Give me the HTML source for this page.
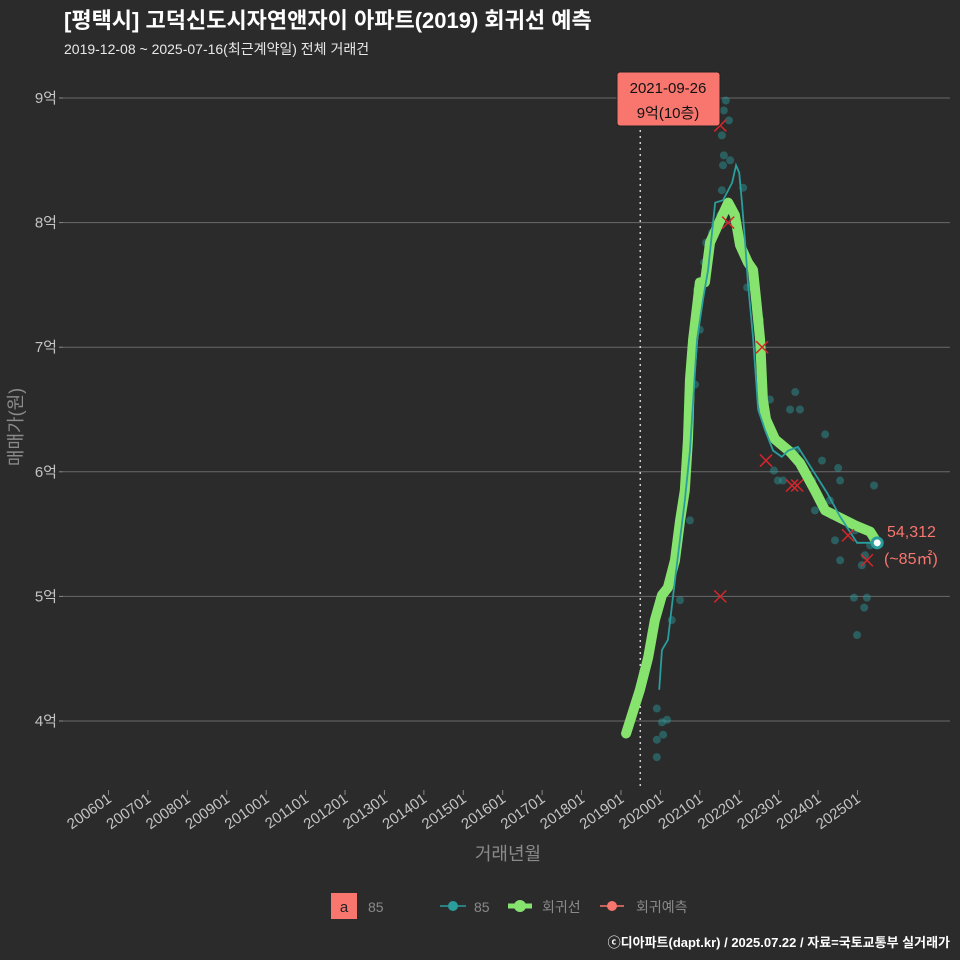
<!DOCTYPE html>
<html><head><meta charset="utf-8">
<style>
html,body{margin:0;padding:0;background:#2b2b2c;}
svg{display:block;font-family:"Liberation Sans","Noto Sans CJK KR",sans-serif;}
</style></head>
<body>
<svg id="chart" width="960" height="960" viewBox="0 0 960 960">
<rect width="960" height="960" fill="#2b2b2c"/>
<text x="64" y="28" fill="#ffffff" font-size="22" font-weight="bold">[평택시] 고덕신도시자연앤자이 아파트(2019) 회귀선 예측</text>
<text x="64" y="54" fill="#e8e8e8" font-size="14">2019-12-08 ~ 2025-07-16(최근계약일) 전체 거래건</text>
<g id="grid"></g>
<g id="marks"></g>
<text x="0" y="0" transform="translate(22,427) rotate(-90)" text-anchor="middle" fill="#8a8a8a" font-size="18">매매가(원)</text>
<text x="508" y="860" text-anchor="middle" fill="#8a8a8a" font-size="18">거래년월</text>
<g>
<rect x="331" y="893" width="26" height="26" fill="#f8766d"/>
<text x="344" y="912" text-anchor="middle" fill="#222" font-size="15">a</text>
<text x="368" y="912" fill="#8a8a8a" font-size="14">85</text>
<g>
<line x1="440" y1="906" x2="466" y2="906" stroke="#2a9d9d" stroke-width="1.5"/>
<circle cx="453" cy="906" r="5" fill="#2a9d9d"/>
<text x="474" y="912" fill="#8a8a8a" font-size="14">85</text></g>
<g>
<line x1="508" y1="906" x2="532" y2="906" stroke="#86e46e" stroke-width="5"/>
<circle cx="520" cy="906" r="6" fill="#86e46e"/>
<text x="542" y="912" fill="#8a8a8a" font-size="14">회귀선</text></g>
<g>
<line x1="600" y1="906" x2="624" y2="906" stroke="#f8766d" stroke-width="1.5"/>
<circle cx="612" cy="906" r="5" fill="#f8766d"/>
<text x="636" y="912" fill="#8a8a8a" font-size="14">회귀예측</text></g>
</g>
<text x="950" y="947" text-anchor="end" fill="#ffffff" font-size="13" font-weight="bold">ⓒ디아파트(dapt.kr) / 2025.07.22 / 자료=국토교통부 실거래가</text>
</svg>
<script>
const yTicks=[4,5,6,7,8,9];
const xTickYears=[2006,2007,2008,2009,2010,2011,2012,2013,2014,2015,2016,2017,2018,2019,2020,2021,2022,2023,2024,2025];
const regT=[2019.13,2019.28,2019.48,2019.69,2019.86,2020.04,2020.19,2020.37,2020.50,2020.62,2020.70,2020.75,2020.83,2020.95,2021.00,2021.13,2021.26,2021.46,2021.72,2021.89,2022.02,2022.22,2022.35,2022.43,2022.53,2022.60,2022.68,2022.91,2023.29,2023.54,2023.92,2024.18,2024.56,2024.94,2025.32,2025.50];
const regV=[3.90,4.05,4.25,4.51,4.81,5.01,5.07,5.29,5.61,5.85,6.26,6.74,7.06,7.38,7.52,7.52,7.84,7.98,8.16,8.06,7.82,7.68,7.62,7.38,7.06,6.58,6.42,6.26,6.16,6.07,5.85,5.69,5.63,5.57,5.52,5.43];
const s85T=[2019.97,2020.04,2020.19,2020.37,2020.62,2020.75,2020.93,2021.08,2021.21,2021.39,2021.59,2021.82,2021.92,2022.00,2022.07,2022.15,2022.22,2022.35,2022.48,2022.65,2022.86,2023.08,2023.24,2023.49,2023.87,2024.23,2024.56,2024.99,2025.50];
const s85V=[4.25,4.57,4.65,5.13,5.77,6.17,7.06,7.38,7.62,8.16,8.18,8.32,8.46,8.40,8.16,7.84,7.52,7.08,6.50,6.34,6.17,6.12,6.17,6.20,6.01,5.83,5.64,5.43,5.43];
const dotT=[2019.91,2019.91,2020.04,2019.91,2020.07,2020.17,2020.29,2020.50,2020.40,2020.75,2020.65,2020.88,2021.00,2020.93,2021.11,2021.16,2021.31,2021.39,2021.52,2021.56,2021.59,2021.61,2021.56,2021.61,2021.66,2021.74,2021.77,2022.10,2022.20,2022.53,2022.68,2022.78,2022.88,2022.98,2023.11,2023.29,2023.42,2023.54,2023.44,2023.67,2023.85,2023.92,2024.10,2024.18,2024.30,2024.51,2024.56,2024.43,2024.56,2024.68,2024.94,2025.11,2025.19,2025.32,2024.91,2025.24,2024.99,2025.17,2025.42,2024.35];
const dotV=[4.10,3.85,3.99,3.71,3.89,4.01,4.81,4.97,5.28,5.61,6.03,6.70,7.14,7.46,7.68,7.84,7.92,7.98,8.06,8.26,8.46,8.54,8.70,8.90,8.98,8.82,8.50,8.28,7.48,7.22,6.42,6.58,6.01,5.93,5.93,6.50,6.64,6.50,6.17,6.01,5.93,5.69,6.09,6.30,5.77,6.03,5.93,5.45,5.29,5.61,5.53,5.25,5.33,5.41,4.99,4.99,4.69,4.91,5.89,5.65];
const predT=[2021.52,2021.72,2022.58,2021.52,2022.68,2023.34,2023.47,2024.76,2025.24];
const predV=[8.78,8.00,7.00,5.00,6.09,5.89,5.89,5.49,5.29];
const markerT=2019.49;
const NS='http://www.w3.org/2000/svg';
function X(t){return 108.5+(t-2006)*39.42;}
function Y(v){return 721-(v-4)*124.6;}
function mk(tag,attrs,parent){const e=document.createElementNS(NS,tag);for(const k in attrs)e.setAttribute(k,attrs[k]);parent.appendChild(e);return e;}
const grid=document.getElementById('grid'),marks=document.getElementById('marks');
yTicks.forEach(v=>{
 const l=mk('line',{x1:63,x2:950,y1:Y(v),y2:Y(v),stroke:'#6a6a6a','stroke-width':1},grid);
 
 
 mk('line',{x1:59,x2:63,y1:Y(v),y2:Y(v),stroke:'#888'},grid);
 const t=mk('text',{x:57,y:Y(v)+5,'text-anchor':'end',fill:'#c4c4c4','font-size':15},grid);
 t.textContent=v+'억';
 
 
});
xTickYears.forEach(yr=>{
 const x=X(yr);
 mk('line',{x1:x,x2:x,y1:790,y2:795,stroke:'#888'},grid);
 const t=mk('text',{x:0,y:0,transform:`translate(${x+4},801) rotate(-35)`,'text-anchor':'end',fill:'#c4c4c4','font-size':15},grid);
 t.textContent=yr+'01';
 
 
});
const vl=mk('line',{x1:X(markerT),x2:X(markerT),y1:100,y2:790,stroke:'#cfcfcf','stroke-width':1.5,'stroke-dasharray':'2,4'},marks);


dotT.forEach((t,i)=>{
 const c=mk('circle',{cx:X(t),cy:Y(dotV[i]),r:4,fill:'#2a9d9d','fill-opacity':0.45},marks);
 
 
});
const gp=mk('polyline',{points:regT.map((t,i)=>X(t)+','+Y(regV[i])).join(' '),fill:'none',stroke:'#86e46e','stroke-width':10,'stroke-linecap':'round','stroke-linejoin':'round'},marks);


const bp=mk('polyline',{points:s85T.map((t,i)=>X(t)+','+Y(s85V[i])).join(' '),fill:'none',stroke:'#2a9d9d','stroke-width':1.8},marks);


predT.forEach((t,i)=>{
 const x=X(t),y=Y(predV[i]);
 const g=mk('path',{d:`M${x-6},${y-6}L${x+6},${y+6}M${x-6},${y+6}L${x+6},${y-6}`,stroke:'#d7262b','stroke-width':1.5,fill:'none'},marks);
 
 
});
const last=s85T.length-1;
const ec=mk('circle',{cx:X(s85T[last]),cy:Y(s85V[last]),r:5,fill:'#fff',stroke:'#2a9d9d','stroke-width':3},marks);


const l1=mk('text',{x:887,y:537,fill:'#f8766d','font-size':16},marks);l1.textContent='54,312';


const l2=mk('text',{x:884,y:564,fill:'#f8766d','font-size':16},marks);l2.textContent='(~85㎡)';


const ab=mk('rect',{x:617,y:72,width:103,height:54,rx:3,fill:'#f8766d',stroke:'#222'},marks);


const a1=mk('text',{x:668,y:93,'text-anchor':'middle',fill:'#111','font-size':15},marks);a1.textContent='2021-09-26';


const a2=mk('text',{x:668,y:118,'text-anchor':'middle',fill:'#111','font-size':15},marks);a2.textContent='9억(10층)';


</script>
</body></html>
